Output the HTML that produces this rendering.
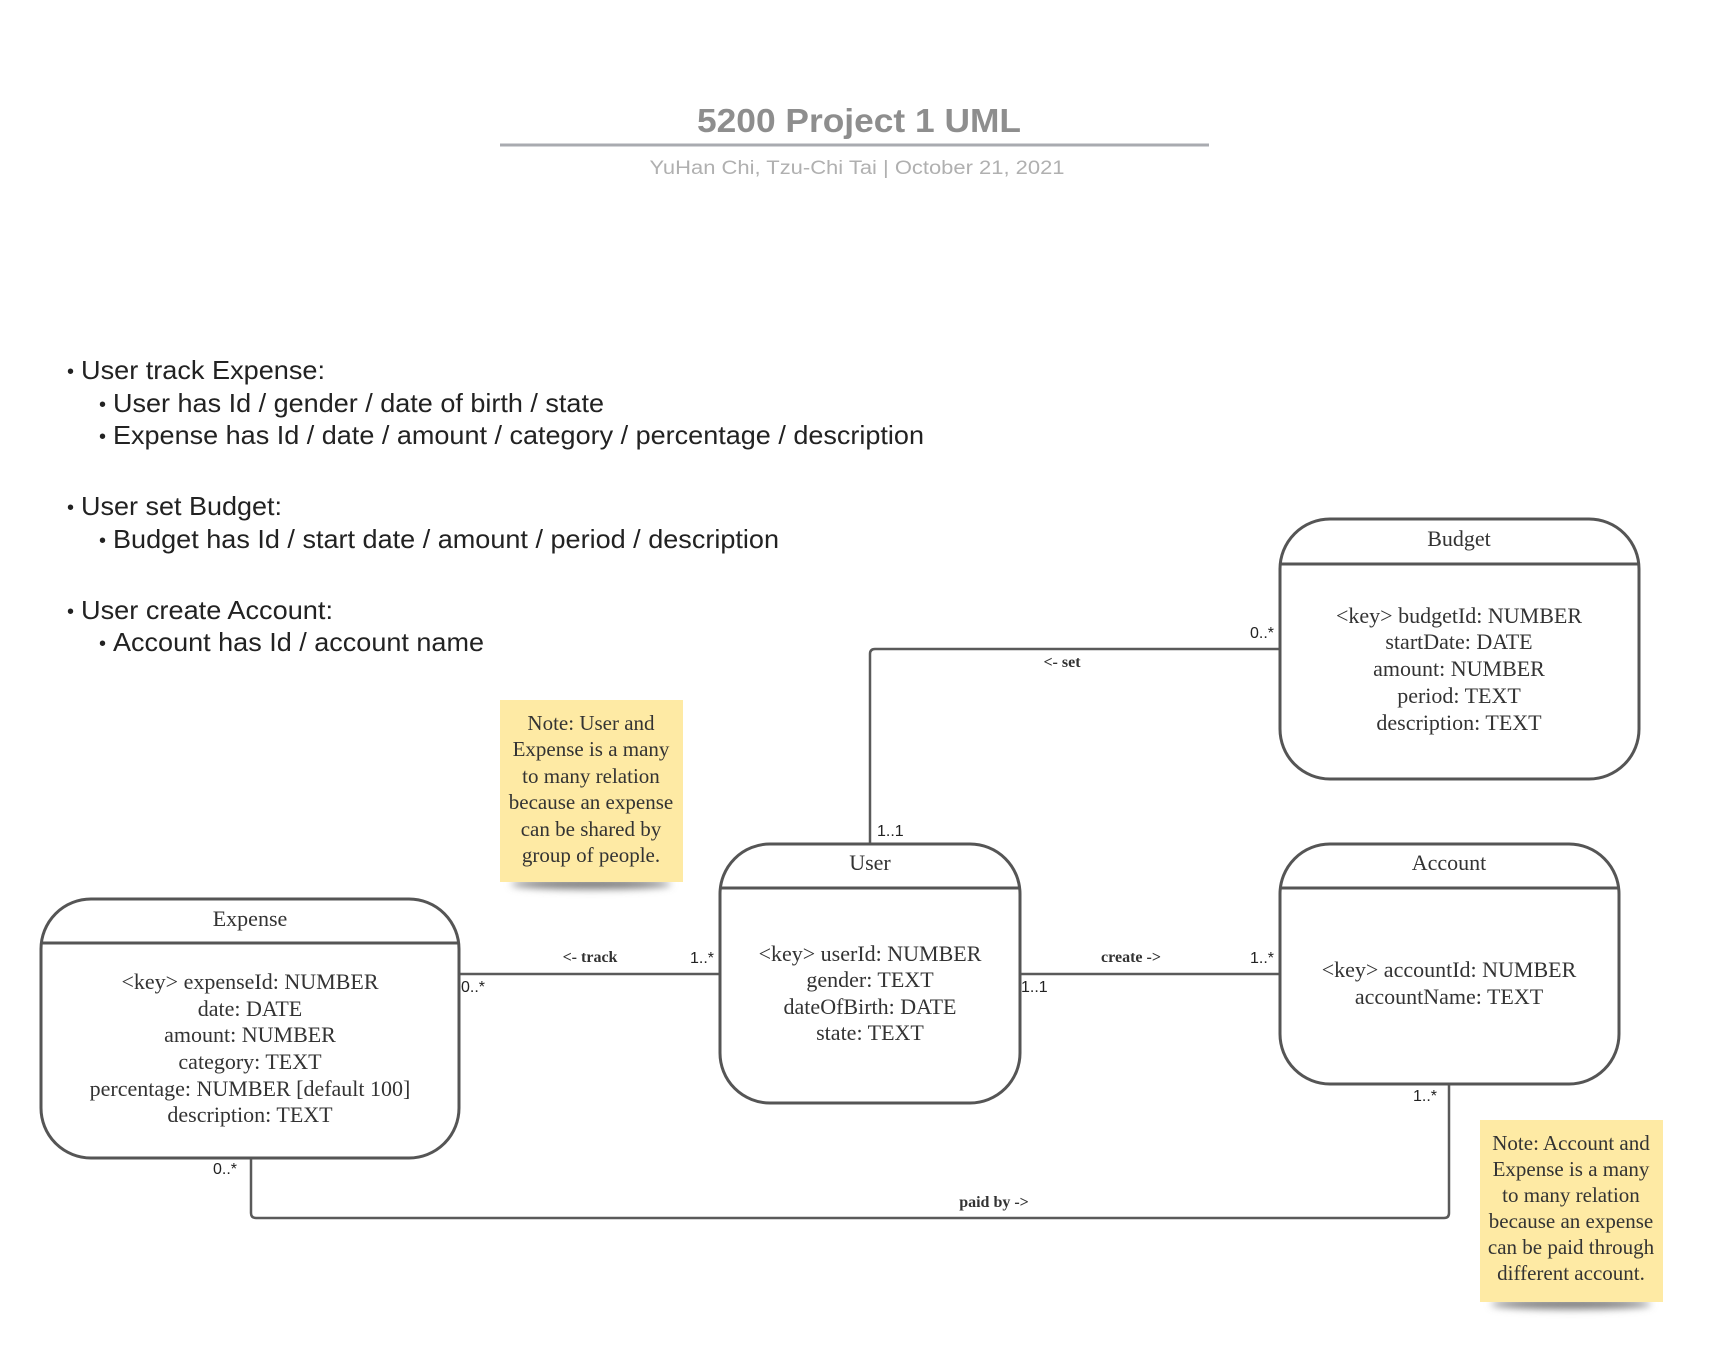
<!DOCTYPE html>
<html><head><meta charset="utf-8"><style>
html,body{margin:0;padding:0;background:#fff;}
svg{display:block;}
.ser{font-family:"Liberation Serif",serif;fill:#333;}
.san{font-family:"Liberation Sans",sans-serif;}
</style></head><body>
<svg width="1726" height="1364" viewBox="0 0 1726 1364" xmlns="http://www.w3.org/2000/svg">
<defs>
<filter id="blur" x="-20%" y="-200%" width="140%" height="500%"><feGaussianBlur stdDeviation="4"/></filter>
</defs>
<rect width="1726" height="1364" fill="#fff"/>
<!-- title -->
<text x="859" y="132" text-anchor="middle" class="san" font-size="33" font-weight="bold" fill="#8e8e8e" textLength="324" lengthAdjust="spacingAndGlyphs">5200 Project 1 UML</text>
<line x1="500" y1="145" x2="1209" y2="145" stroke="#a9abb0" stroke-width="3"/>
<text x="857" y="174" text-anchor="middle" class="san" font-size="19" fill="#b0b0b0" textLength="415" lengthAdjust="spacingAndGlyphs">YuHan Chi, Tzu-Chi Tai  |  October 21, 2021</text>
<!-- bullets -->
<g class="san" font-size="20" fill="#222">
<text x="67" y="378">•</text>
<text x="99" y="411">•</text>
<text x="99" y="443">•</text>
<text x="67" y="514">•</text>
<text x="99" y="547">•</text>
<text x="67" y="618">•</text>
<text x="99" y="650">•</text>
</g>
<g class="san" font-size="26" fill="#222">
<text x="81" y="379" textLength="244" lengthAdjust="spacingAndGlyphs">User track Expense:</text>
<text x="113" y="412" textLength="491" lengthAdjust="spacingAndGlyphs">User has Id / gender / date of birth / state</text>
<text x="113" y="444" textLength="811" lengthAdjust="spacingAndGlyphs">Expense has Id / date / amount / category / percentage / description</text>
<text x="81" y="515" textLength="201" lengthAdjust="spacingAndGlyphs">User set Budget:</text>
<text x="113" y="548" textLength="666" lengthAdjust="spacingAndGlyphs">Budget has Id / start date / amount / period / description</text>
<text x="81" y="619" textLength="252" lengthAdjust="spacingAndGlyphs">User create Account:</text>
<text x="113" y="651" textLength="371" lengthAdjust="spacingAndGlyphs">Account has Id / account name</text>
</g>
<!-- connectors -->
<g fill="none" stroke="#5a5a5a" stroke-width="2.5">
<path d="M870 844 V654 Q870 649 875 649 H1280"/>
<line x1="459" y1="974" x2="720" y2="974"/>
<line x1="1020" y1="974" x2="1280" y2="974"/>
<path d="M251 1158 V1213 Q251 1218 256 1218 H1444 Q1449 1218 1449 1213 V1084"/>
</g>
<g class="ser" font-size="16" font-weight="bold" fill="#333">
<text x="1062" y="667" text-anchor="middle">&lt;- set</text>
<text x="590" y="962" text-anchor="middle">&lt;-  track</text>
<text x="1131" y="962" text-anchor="middle">create -&gt;</text>
<text x="994" y="1207" text-anchor="middle">paid by -&gt;</text>
</g>
<g class="san" font-size="16" fill="#222">
<text x="1250" y="638">0..*</text>
<text x="877" y="836">1..1</text>
<text x="690" y="963">1..*</text>
<text x="461" y="992">0..*</text>
<text x="1250" y="963">1..*</text>
<text x="1021" y="992">1..1</text>
<text x="213" y="1174">0..*</text>
<text x="1413" y="1101">1..*</text>
</g>
<!-- boxes -->
<g fill="#fff" stroke="#555" stroke-width="3">
<rect x="1280" y="519" width="359" height="260" rx="50"/>
<line x1="1280" y1="564" x2="1639" y2="564"/>
<rect x="720" y="844" width="300" height="259" rx="50"/>
<line x1="720" y1="888" x2="1020" y2="888"/>
<rect x="1280" y="844" width="339" height="240" rx="50"/>
<line x1="1280" y1="888" x2="1619" y2="888"/>
<rect x="41" y="899" width="418" height="259" rx="50"/>
<line x1="41" y1="943" x2="459" y2="943"/>
</g>
<g class="ser" font-size="22" text-anchor="middle">
<text x="1459" y="546">Budget</text>
<text x="1459" y="623">&lt;key&gt; budgetId: NUMBER</text>
<text x="1459" y="649">startDate: DATE</text>
<text x="1459" y="676">amount: NUMBER</text>
<text x="1459" y="703">period: TEXT</text>
<text x="1459" y="730">description: TEXT</text>
<text x="870" y="870">User</text>
<text x="870" y="961">&lt;key&gt; userId: NUMBER</text>
<text x="870" y="987">gender: TEXT</text>
<text x="870" y="1014">dateOfBirth: DATE</text>
<text x="870" y="1040">state: TEXT</text>
<text x="1449" y="870">Account</text>
<text x="1449" y="977">&lt;key&gt; accountId: NUMBER</text>
<text x="1449" y="1004">accountName: TEXT</text>
<text x="250" y="926">Expense</text>
<text x="250" y="989">&lt;key&gt; expenseId: NUMBER</text>
<text x="250" y="1016">date: DATE</text>
<text x="250" y="1042">amount: NUMBER</text>
<text x="250" y="1069">category: TEXT</text>
<text x="250" y="1096">percentage: NUMBER [default 100]</text>
<text x="250" y="1122">description: TEXT</text>
</g>
<!-- notes -->
<ellipse cx="591" cy="884" rx="80" ry="5" fill="#777" filter="url(#blur)"/>
<rect x="500" y="700" width="183" height="182" fill="#feeaa4"/>
<ellipse cx="1571" cy="1304" rx="80" ry="5" fill="#777" filter="url(#blur)"/>
<rect x="1480" y="1120" width="183" height="182" fill="#feeaa4"/>
<g class="ser" font-size="21" text-anchor="middle">
<text x="591" y="730">Note: User and</text>
<text x="591" y="756">Expense is a many</text>
<text x="591" y="783">to many relation</text>
<text x="591" y="809">because an expense</text>
<text x="591" y="836">can be shared by</text>
<text x="591" y="862">group of people.</text>
<text x="1571" y="1150">Note: Account and</text>
<text x="1571" y="1176">Expense is a many</text>
<text x="1571" y="1202">to many relation</text>
<text x="1571" y="1228">because an expense</text>
<text x="1571" y="1254">can be paid through</text>
<text x="1571" y="1280">different account.</text>
</g>
</svg>
</body></html>
